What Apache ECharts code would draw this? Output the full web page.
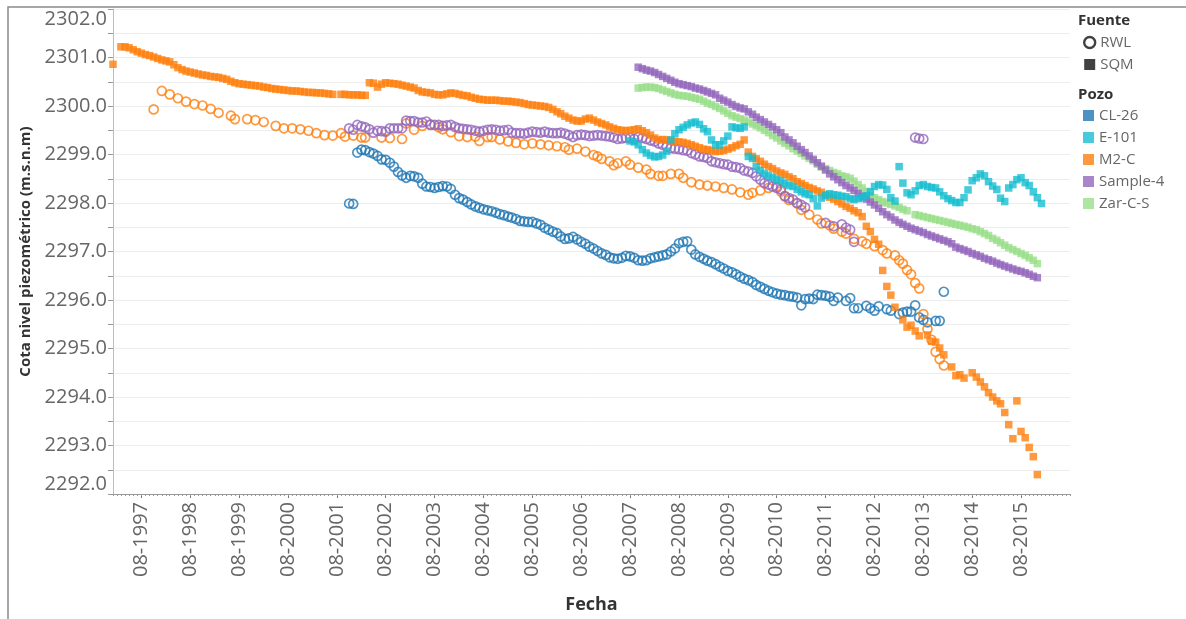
<!DOCTYPE html>
<html><head><meta charset="utf-8">
<script src="https://cdn.jsdelivr.net/npm/echarts@6/dist/echarts.min.js"></script>
<style>html,body{margin:0;padding:0;background:#fff}#c{width:1186px;height:619px}</style>
</head><body><div id="c"></div>
<script>
// ---------- tick labels ----------
const xTickLabels = ['08-1997','08-1998','08-1999','08-2000','08-2001','08-2002','08-2003','08-2004','08-2005','08-2006','08-2007','08-2008','08-2009','08-2010','08-2011','08-2012','08-2013','08-2014','08-2015'];
const pozoNames = ['CL-26','E-101','M2-C','Sample-4','Zar-C-S'];
const pozoColors = ['#1f77b4','#17becf','#ff7f0e','#9467bd','#98df8a'];
const fuenteNames = ['RWL','SQM'];

// ---------- data: monthly readings (null = no reading) ----------
// RWL (circles)
const cl26RwlStart = '2001-11';
const cl26RwlValues = [
 2297.99,2297.98,
 2299.04,2299.10,2299.09,2299.05,2299.02,2298.97,2298.90,2298.89,2298.83,2298.75,2298.64,2298.57,
 2298.52,2298.56,2298.55,2298.52,2298.40,2298.34,2298.33,2298.31,2298.33,2298.35,2298.34,2298.29,
 2298.17,2298.10,2298.07,2298.02,2297.97,2297.93,2297.90,2297.87,2297.85,2297.83,2297.80,2297.77,
 2297.75,2297.72,2297.70,2297.67,2297.63,2297.62,2297.61,2297.61,2297.58,2297.55,2297.49,2297.45,
 2297.41,2297.38,2297.31,2297.26,2297.27,2297.30,2297.25,2297.20,2297.16,2297.10,2297.06,2297.01,
 2296.96,2296.93,2296.88,2296.86,2296.85,2296.87,2296.91,2296.90,2296.87,2296.82,2296.81,2296.82,
 2296.86,2296.88,2296.90,2296.92,2296.94,2297.00,2297.06,2297.17,2297.20,2297.21,2297.04,2296.94,
 2296.89,2296.85,2296.81,2296.78,2296.74,2296.69,2296.65,2296.60,2296.57,2296.53,2296.48,2296.44,
 2296.41,2296.37,2296.31,2296.27,2296.23,2296.19,2296.16,2296.13,2296.11,2296.10,2296.08,2296.07,
 2296.05,2295.89,2296.02,2296.03,2296.02,2296.11,2296.10,2296.09,2296.07,2295.98,2296.05,null,
 2295.98,2296.04,2295.83,2295.83,null,2295.88,2295.83,2295.78,2295.87,null,2295.81,2295.78,
 null,2295.71,2295.74,2295.76,2295.76,2295.89,2295.64,2295.59,2295.54,null,2295.57,2295.57,
 2296.17
];
const m2cRwlStart = '1997-11';
const m2cRwlValues = [
 2299.93,null,
 2300.31,null,2300.24,null,2300.16,null,2300.09,null,2300.04,null,2300.01,null,
 2299.94,null,2299.86,null,null,2299.80,2299.73,null,null,2299.73,null,2299.71,
 null,2299.67,null,null,2299.59,null,2299.54,null,2299.54,null,2299.52,null,
 2299.49,null,2299.44,null,2299.40,null,2299.39,null,2299.44,2299.37,null,2299.39,
 null,2299.35,2299.35,null,null,null,2299.35,null,2299.34,null,null,2299.32,
 2299.64,null,2299.51,null,2299.59,null,2299.62,null,2299.56,2299.52,null,2299.46,
 null,2299.38,null,2299.36,null,2299.37,2299.28,null,2299.36,2299.36,null,2299.31,
 null,2299.27,null,2299.24,null,2299.21,null,2299.23,null,2299.21,null,2299.19,
 null,2299.17,null,2299.15,2299.10,null,2299.12,null,2299.06,null,2298.99,2298.96,
 2298.91,null,2298.86,2298.78,2298.82,null,2298.86,2298.79,null,2298.73,null,2298.69,
 2298.60,null,2298.56,2298.56,null,2298.60,null,2298.60,2298.52,null,2298.43,null,
 2298.38,null,2298.36,null,2298.34,null,2298.31,null,2298.28,null,2298.22,null,
 2298.17,2298.21,null,2298.26,null,2298.31,null,2298.34,2298.24,2298.14,2298.06,null,
 2297.99,2297.86,null,2297.76,null,2297.66,2297.58,null,2297.54,2297.47,null,2297.41,
 2297.37,null,2297.26,null,2297.21,2297.16,null,2297.11,null,2297.03,2296.96,null,
 2296.92,2296.82,2296.75,2296.62,2296.53,2296.35,2296.24,2295.71,2295.40,2295.18,2294.93,2294.78,
 2294.65
];
const sample4RwlStart = '2001-11';
const sample4RwlValues = [
 2299.54,2299.51,
 2299.61,2299.58,2299.56,2299.52,2299.45,2299.49,2299.48,2299.47,2299.54,2299.54,2299.54,2299.54,
 2299.70,2299.69,2299.69,2299.66,2299.66,2299.68,2299.61,2299.61,2299.61,2299.59,2299.60,2299.61,
 2299.57,2299.54,2299.53,2299.52,2299.51,2299.49,2299.47,2299.49,2299.51,2299.52,2299.51,2299.49,
 2299.50,2299.51,2299.45,2299.44,2299.44,2299.43,2299.45,2299.47,2299.46,2299.45,2299.47,2299.45,
 2299.44,2299.44,2299.45,2299.43,2299.40,2299.36,2299.40,2299.41,2299.40,2299.38,2299.39,2299.40,
 2299.39,2299.38,2299.37,2299.35,2299.32,2299.33,2299.34,2299.34,2299.32,2299.36,2299.34,2299.32,
 2299.29,2299.27,2299.23,2299.20,2299.16,2299.13,2299.12,2299.11,2299.09,2299.08,2299.03,2299.00,
 2298.96,2298.95,2298.93,2298.86,2298.84,2298.82,2298.80,2298.79,2298.75,2298.74,2298.72,2298.67,
 2298.65,2298.62,2298.55,2298.48,2298.41,2298.38,2298.34,2298.31,2298.28,2298.14,2298.10,2298.07,
 2298.00,2297.96,2297.91,null,null,null,null,2297.59,null,2297.52,null,2297.56,
 2297.49,2297.45,2297.20,null,null,null,null,null,null,null,null,null,
 null,null,null,null,null,2299.35,2299.33,2299.32
];
// SQM (squares)
const e101SqmStart = '2007-08';
const e101SqmValues = [
 2299.28,2299.26,2299.20,2299.10,2299.03,
 2298.98,2298.95,2298.96,2298.99,2299.07,2299.30,2299.43,2299.51,2299.56,2299.61,2299.65,2299.67,
 2299.62,2299.53,2299.47,2299.30,2299.20,2299.20,2299.28,2299.38,2299.57,2299.55,2299.54,2299.57,
 2298.96,2298.92,2298.75,2298.67,2298.60,2298.56,2298.52,2298.49,2298.46,2298.40,2298.36,2298.34,
 2298.28,2298.23,2298.19,2298.17,2298.09,2297.94,2298.10,2298.15,2298.19,2298.17,2298.16,2298.14,
 2298.13,2298.09,2298.07,2298.09,2298.11,2298.15,2298.23,2298.34,2298.38,2298.37,2298.28,2298.11,
 2298.04,2298.75,2298.41,2298.21,2298.17,2298.25,2298.36,2298.38,2298.34,2298.32,2298.31,2298.23,
 2298.15,2298.09,2298.05,2298.01,2298.01,2298.11,2298.27,2298.46,2298.52,2298.60,2298.56,2298.44,
 2298.35,2298.28,2298.10,2298.03,2298.31,2298.38,2298.48,2298.52,2298.42,2298.36,2298.23,2298.11,
 2297.99
];
const m2cSqmStart = '1997-01';
const m2cSqmValues = [
 2300.86,null,2301.22,2301.22,2301.20,2301.16,2301.12,2301.09,2301.06,2301.04,2301.01,2300.98,
 2300.95,2300.93,2300.91,2300.85,2300.79,2300.75,2300.72,2300.70,2300.68,2300.66,2300.64,2300.63,
 2300.61,2300.60,2300.59,2300.57,2300.55,2300.51,2300.48,2300.46,2300.45,2300.44,2300.43,2300.42,
 2300.41,2300.39,2300.38,2300.36,2300.35,2300.34,2300.33,2300.32,2300.31,2300.31,2300.30,2300.29,
 2300.28,2300.28,2300.27,2300.27,2300.26,2300.25,2300.24,null,2300.24,2300.24,2300.23,2300.23,
 2300.23,2300.22,2300.22,2300.48,2300.47,2300.39,2300.45,2300.48,2300.47,2300.46,2300.45,2300.43,
 2300.41,2300.39,2300.37,2300.32,2300.29,2300.28,2300.27,2300.24,2300.23,2300.23,2300.25,2300.27,
 2300.26,2300.24,2300.22,2300.21,2300.18,2300.16,2300.14,2300.13,2300.12,2300.12,2300.12,2300.11,
 2300.10,2300.10,2300.09,2300.08,2300.07,2300.05,2300.03,2300.02,2300.01,2300.00,2299.99,2299.97,
 2299.93,2299.88,2299.84,2299.79,2299.75,2299.71,2299.69,2299.69,2299.73,2299.75,2299.71,2299.67,
 2299.64,2299.61,2299.57,2299.54,2299.51,2299.50,2299.49,2299.50,2299.51,2299.53,2299.49,2299.45,
 2299.40,2299.34,2299.30,2299.31,2299.30,2299.28,2299.27,2299.26,2299.25,2299.23,2299.20,2299.17,
 2299.14,2299.11,2299.10,2299.08,2299.06,2299.07,2299.08,2299.11,2299.14,2299.18,2299.21,2299.30,
 2299.05,2298.96,2298.91,2298.86,2298.80,2298.75,2298.71,2298.66,2298.62,2298.59,2298.54,2298.50,
 2298.44,2298.40,2298.36,2298.32,2298.29,2298.25,2298.22,2298.17,2298.12,2298.08,2298.03,2297.98,
 2297.93,2297.89,2297.84,2297.80,2297.72,2297.52,2297.41,2297.25,2297.15,2296.61,2296.28,2296.10,
 2295.85,null,2295.59,2295.44,2295.48,2295.36,2295.26,null,2295.28,2295.15,2295.13,2295.01,
 2294.87,null,2294.62,2294.44,2294.46,2294.39,null,2294.50,2294.41,2294.31,2294.21,2294.09,
 2294.00,2293.92,2293.86,2293.68,2293.43,2293.14,2293.92,2293.29,2293.16,2292.96,2292.77,2292.40
];
const sample4SqmStart = '2007-10';
const sample4SqmValues = [
 2300.80,2300.77,2300.74,
 2300.72,2300.69,2300.65,2300.61,2300.57,2300.53,2300.49,2300.46,2300.44,2300.42,2300.40,2300.37,
 2300.35,2300.32,2300.29,2300.26,2300.23,2300.16,2300.12,2300.08,2300.03,2299.99,2299.96,2299.94,
 2299.88,2299.83,2299.77,2299.72,2299.67,2299.62,2299.57,2299.51,2299.45,2299.36,2299.30,2299.24,
 2299.17,2299.10,2299.04,2298.97,2298.90,2298.83,2298.76,2298.68,2298.60,2298.54,2298.48,2298.42,
 2298.36,2298.31,2298.26,2298.20,2298.14,2298.08,2298.02,2297.96,2297.89,2297.82,2297.76,2297.71,
 2297.65,2297.60,2297.56,2297.52,2297.48,2297.45,2297.42,2297.39,2297.35,2297.32,2297.29,2297.26,
 2297.23,2297.20,2297.16,2297.09,2297.06,2297.03,2297.00,2296.96,2296.93,2296.90,2296.86,2296.83,
 2296.80,2296.76,2296.73,2296.70,2296.67,2296.64,2296.61,2296.59,2296.56,2296.53,2296.49,2296.46
];
const zarSqmStart = '2007-10';
const zarSqmValues = [
 2300.37,2300.38,2300.39,
 2300.39,2300.38,2300.36,2300.33,2300.30,2300.27,2300.24,2300.22,2300.21,2300.20,2300.18,2300.16,
 2300.14,2300.10,2300.06,2300.03,2299.99,2299.95,2299.90,2299.85,2299.80,2299.77,2299.74,2299.71,
 2299.67,2299.63,2299.59,2299.55,2299.50,2299.45,2299.39,2299.34,2299.28,2299.23,2299.18,2299.12,
 2299.07,2299.02,2298.97,2298.92,2298.87,2298.80,2298.74,2298.71,2298.67,2298.63,2298.60,2298.56,
 2298.54,2298.51,2298.45,2298.38,2298.31,2298.24,2298.16,2298.11,2298.07,2298.03,2298.00,2297.97,
 2297.94,2297.91,2297.87,2297.84,null,2297.76,2297.74,2297.72,2297.70,2297.68,2297.66,2297.64,
 2297.62,2297.60,2297.58,2297.56,2297.54,2297.52,2297.50,2297.47,2297.45,2297.41,2297.37,2297.33,
 2297.27,2297.23,2297.18,2297.13,2297.08,2297.04,2297.00,2296.96,2296.92,2296.87,2296.82,2296.75
];

// ---------- helpers ----------
function monthTime(y, mIndex) { return new Date(y, mIndex, 1).getTime(); }
function monthlyPairs(start, values) {
  const parts = start.split('-').map(Number);
  const out = [];
  values.forEach((v, i) => {
    if (v == null) return;
    out.push([monthTime(parts[0], parts[1] - 1 + i), v]);
  });
  return out;
}
const majorTicks = xTickLabels.map(l => { const p = l.split('-'); return monthTime(+p[1], +p[0] - 1); });
const labelByTime = {}; majorTicks.forEach((t, i) => labelByTime[t] = xTickLabels[i]);
const minorTicks = []; for (let k = 0; k <= 235; k++) minorTicks.push(monthTime(1997, k));
const xMin = monthTime(1997, 0), xMax = monthTime(2016, 7);

const FONT = 'Open Sans';
function circleSeries(name, color, start, values) {
  return { name, type: 'scatter', symbol: 'circle', symbolSize: 9, data: monthlyPairs(start, values),
    itemStyle: { color: 'rgba(0,0,0,0)', borderColor: color, borderWidth: 1.7 }, emphasis: { disabled: true } };
}
function squareSeries(name, color, start, values) {
  return { name, type: 'scatter', symbol: 'rect', symbolSize: 7.5, data: monthlyPairs(start, values),
    itemStyle: { color: color }, emphasis: { disabled: true } };
}
const col = n => pozoColors[pozoNames.indexOf(n)];

const chart = echarts.init(document.getElementById('c'), null, { renderer: 'canvas' });
chart.setOption({
  animation: false,
  textStyle: { fontFamily: FONT },
  grid: { left: 113, right: 116, top: 9, bottom: 124, containLabel: false },
  title: [
    { text: 'Fuente', left: 1078, top: 13, padding: 0, textStyle: { fontSize: 15, fontWeight: 'bold', color: '#333', fontFamily: FONT } },
    { text: 'Pozo', left: 1078, top: 87, padding: 0, textStyle: { fontSize: 15, fontWeight: 'bold', color: '#333', fontFamily: FONT } }
  ],
  legend: [
    { orient: 'vertical', left: 1083, top: 35, padding: 0, itemWidth: 11, itemHeight: 11, itemGap: 7, selectedMode: false,
      textStyle: { fontSize: 15, color: '#666', lineHeight: 14, fontFamily: FONT },
      data: [
        { name: 'RWL', icon: 'circle', itemStyle: { color: 'rgba(0,0,0,0)', borderColor: '#111', borderWidth: 2.4 } },
        { name: 'SQM', icon: 'rect', itemStyle: { color: '#111', borderWidth: 0 } }
      ] },
    { orient: 'vertical', left: 1083, top: 108, padding: 0, itemWidth: 11, itemHeight: 11, itemGap: 7, selectedMode: false,
      textStyle: { fontSize: 15, color: '#666', lineHeight: 14, fontFamily: FONT },
      data: pozoNames.map((n, i) => ({ name: n, icon: 'rect', itemStyle: { color: pozoColors[i], borderWidth: 0 } })) }
  ],
  xAxis: [
    { type: 'value', min: xMin, max: xMax, position: 'bottom',
      axisLine: { show: true, lineStyle: { color: '#9a9a9a', width: 1 } },
      axisTick: { show: true, customValues: majorTicks, length: 4, lineStyle: { color: '#777' } },
      axisLabel: { customValues: majorTicks, rotate: 90, fontSize: 20, color: '#666', margin: 8, fontFamily: FONT,
        formatter: v => labelByTime[v] || '' },
      splitLine: { show: false },
      name: 'Fecha', nameLocation: 'middle', nameGap: 102,
      nameTextStyle: { fontSize: 18, fontWeight: 'bold', color: '#333', fontFamily: FONT } },
    { type: 'value', min: xMin, max: xMax, position: 'bottom',
      axisLine: { show: false }, axisLabel: { show: false }, splitLine: { show: false },
      axisTick: { show: true, customValues: minorTicks, length: 2, lineStyle: { color: '#999' } } }
  ],
  yAxis: {
    type: 'value', min: 2292, max: 2302, interval: 1,
    axisLine: { show: true, lineStyle: { color: '#bdbdbd' } },
    axisTick: { show: true, length: 5, lineStyle: { color: '#999' } },
    minorTick: { show: true, splitNumber: 2, length: 5, lineStyle: { color: '#999' } },
    splitLine: { show: true, lineStyle: { color: '#ededed' } },
    minorSplitLine: { show: true, lineStyle: { color: '#ededed' } },
    axisLabel: { formatter: v => v.toFixed(1), fontSize: 20, color: '#666', margin: 6, fontFamily: FONT,
      verticalAlignMaxLabel: 'top', verticalAlignMinLabel: 'bottom' },
    name: 'Cota nivel piezométrico (m.s.n.m)', nameLocation: 'middle', nameGap: 76,
    nameTextStyle: { fontSize: 15, fontWeight: 'bold', color: '#333', fontFamily: FONT }
  },
  graphic: [
    { type: 'polyline', silent: true, shape: { points: [[8, 619], [8, 7], [1186, 7]] },
      style: { stroke: '#8a8a8a', lineWidth: 1.5, fill: 'none' } }
  ],
  series: [
    { name: 'RWL', type: 'scatter', symbol: 'circle', data: [], itemStyle: { color: 'rgba(0,0,0,0)', borderColor: '#111', borderWidth: 2.4 } },
    { name: 'SQM', type: 'scatter', symbol: 'rect', data: [], itemStyle: { color: '#111' } },
    circleSeries('CL-26', col('CL-26'), cl26RwlStart, cl26RwlValues),
    circleSeries('M2-C', col('M2-C'), m2cRwlStart, m2cRwlValues),
    circleSeries('Sample-4', col('Sample-4'), sample4RwlStart, sample4RwlValues),
    squareSeries('Zar-C-S', col('Zar-C-S'), zarSqmStart, zarSqmValues),
    squareSeries('Sample-4', col('Sample-4'), sample4SqmStart, sample4SqmValues),
    squareSeries('M2-C', col('M2-C'), m2cSqmStart, m2cSqmValues),
    squareSeries('E-101', col('E-101'), e101SqmStart, e101SqmValues)
  ]
});
</script>
</body></html>
